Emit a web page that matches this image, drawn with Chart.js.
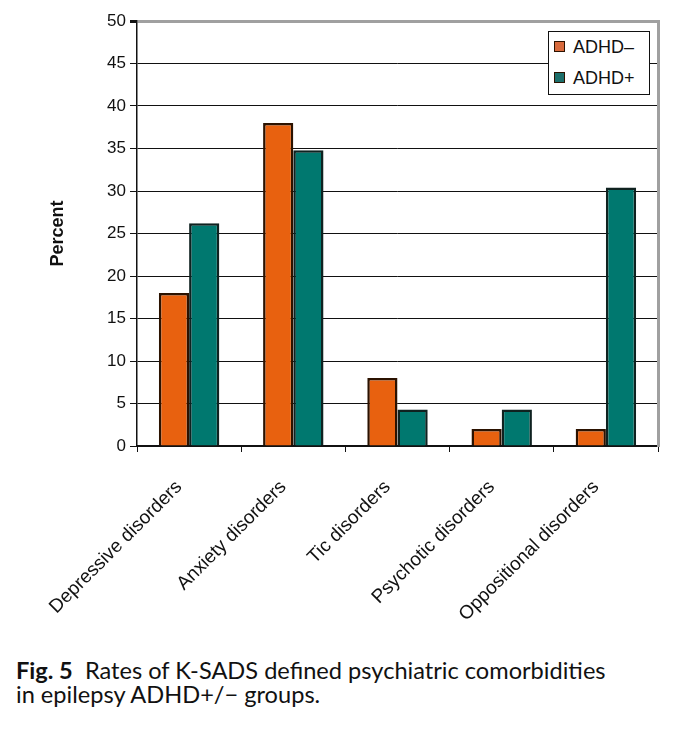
<!DOCTYPE html>
<html>
<head>
<meta charset="utf-8">
<script src="https://cdn.jsdelivr.net/npm/chart.js@4"></script>
<style>
  body { margin: 0; background: #fff; }
  #wrap { position: relative; width: 683px; height: 730px; }
  #chartBox { position: absolute; left: 0; top: 0; width: 683px; height: 640px; }
  #legend { position: absolute; left: 548px; top: 31px; width: 100px; height: 62px;
    border: 1px solid #111; background: #fff; font-family: "Liberation Sans", Arial, sans-serif;
    font-size: 18px; color: #111; }
  #legend div { height: 31px; line-height: 31px; padding-left: 5px; }
  #legend span.sw { display: inline-block; width: 9px; height: 9px; border: 1.5px solid #2b1200;
    margin-right: 8px; vertical-align: 1px; }
  #caption { position: absolute; left: 16px; top: 658px; font-family: Lato, "Open Sans", sans-serif;
    font-size: 23.6px; line-height: 24px; color: #111; }
</style>
</head>
<body>
<div id="wrap">
  <div id="chartBox"><canvas id="myBars"></canvas></div>
  <div id="legend"></div>
  <div id="caption"><b>Fig. 5</b>&nbsp; Rates of K-SADS defined psychiatric comorbidities<br>in epilepsy ADHD+/&minus; groups.</div>
</div>
<script>
// values (percent)
const categories = ['Depressive disorders', 'Anxiety disorders', 'Tic disorders', 'Psychotic disorders', 'Oppositional disorders'];
const adhdMinus = [18, 38, 8, 2, 2];
const adhdPlus = [26.2, 34.8, 4.3, 4.3, 30.4];
const seriesNames = ['ADHD\u2013', 'ADHD+'];
const yTicks = [0, 5, 10, 15, 20, 25, 30, 35, 40, 45, 50];

const fills = ['#e8610f', '#00786f'];
const swatches = ['#d86a3c', '#1d6f6b'];

function myBars() {
  let ctx = document.querySelector('#myBars').getContext('2d');
  let chart = new Chart(ctx, {
    type: 'bar',
    data: {
      labels: categories,
      datasets: [
        {label: seriesNames[0], data: adhdMinus, backgroundColor: fills[0], borderColor: '#2b1200', borderWidth: 2.5},
        {label: seriesNames[1], data: adhdPlus, backgroundColor: fills[1], borderColor: '#0f2220', borderWidth: 2.5}
      ]
    },
    options: {
      responsive: true,
      maintainAspectRatio: false,
      animation: false,
      categoryPercentage: 0.58,
      barPercentage: 1.0,
      layout: {padding: {left: 43, top: 21, right: 0, bottom: 0}},
      plugins: {legend: {display: false}, tooltip: {enabled: false}},
      scales: {
        x: {
          grid: {offset: true, drawOnChartArea: false, drawTicks: true, tickLength: 6, color: '#111'},
          border: {color: '#111', width: 2},
          ticks: {
            color: '#111', minRotation: 45, maxRotation: 45, autoSkip: false, padding: 24, labelOffset: -10,
            font: {family: '"Liberation Sans", Arial, sans-serif', size: 19}
          },
          afterFit: function(scale) { scale.height = 194; }
        },
        y: {
          min: 0, max: 50,
          afterBuildTicks: function(scale) { scale.ticks = yTicks.map(v => ({value: v})); },
          grid: {
            color: c => c.tick && c.tick.value === 50 ? '#a0a0a0' : '#111',
            lineWidth: c => c.tick && c.tick.value === 50 ? 3 : 1,
            tickColor: '#111', tickLength: 7
          },
          border: {color: '#111', width: 1.5},
          ticks: {color: '#111', padding: 4, font: {family: '"Liberation Sans", Arial, sans-serif', size: 17}},
          title: {display: true, text: 'Percent', color: '#111',
            font: {family: '"Liberation Sans", Arial, sans-serif', size: 18, weight: 'bold'}},
          afterFit: function(scale) { scale.width = 94; }
        },
        frame: {
          type: 'linear', position: 'right', min: 0, max: 50,
          ticks: {display: false},
          grid: {drawOnChartArea: false, drawTicks: false},
          border: {color: '#a0a0a0', width: 3},
          afterFit: function(scale) { scale.width = 25; }
        }
      }
    }
  });

  let legend = document.querySelector('#legend');
  chart.data.datasets.forEach(function(ds, i) {
    let row = document.createElement('div');
    row.innerHTML = '<span class="sw" style="background:' + swatches[i] + '"></span>' + ds.label;
    legend.appendChild(row);
  });
}
myBars();
</script>
</body>
</html>
